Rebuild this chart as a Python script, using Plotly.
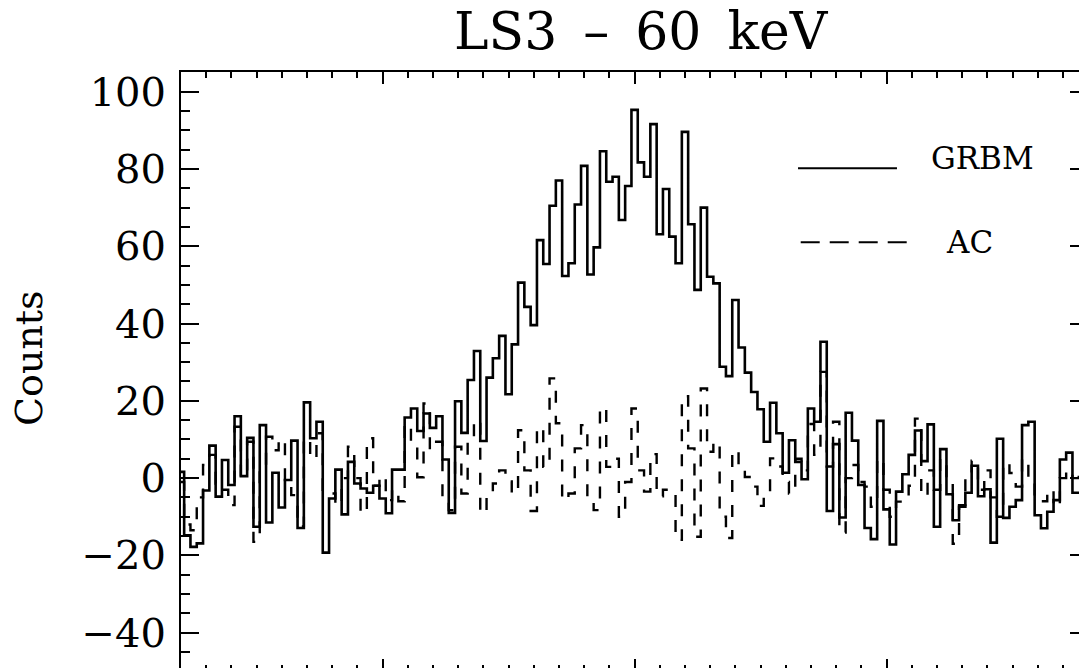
import plotly.graph_objects as go

# ---------------- data ----------------
BIN_WIDTH = 0.25      # bin width in time units
FIRST_BIN = -18.0     # centre of the first bin

grbm_counts = [
    1.6, -14.8, -17.8, -16.9, -3.2, 8.4, -4.8, 4.7, -1.8, 16.0,
    0.5, 10.4, -12.6, 13.7, -11.5, 1.4, -7.6, -0.5, 9.7, -12.9,
    19.6, 10.3, 14.6, -19.3, -5.3, 2.2, -9.4, 4.2, -1.4, -2.7,
    -3.8, -2.0, -5.3, -9.1, 2.2, 2.2, 15.7, 18.0, 12.2, 16.7,
    13.0, 16.0, 4.8, -9.0, 19.9, 11.7, 25.4, 32.9, 9.6, 26.0,
    31.0, 36.8, 21.7, 34.6, 50.6, 44.3, 39.6, 61.6, 55.4, 70.5,
    77.0, 52.3, 55.6, 70.8, 80.8, 52.7, 59.7, 84.6, 76.7, 78.0,
    66.8, 75.6, 95.3, 81.7, 78.0, 91.6, 63.1, 74.8, 62.5, 55.6,
    89.6, 65.7, 48.7, 70.0, 52.1, 50.4, 28.8, 26.4, 46.1, 33.8,
    27.3, 22.3, 17.8, 9.4, 19.5, 11.6, 1.4, 9.8, 4.2, -0.3,
    18.0, 14.6, 35.3, -8.5, 8.8, -10.2, 16.9, 9.7, -1.8, -12.9,
    -15.8, 14.8, -8.1, -17.2, -3.5, 1.0, 6.0, 12.3, 4.4, 13.9,
    -12.6, 7.5, -4.2, -10.9, -7.4, -3.8, 3.2, -4.7, -2.9, -16.7,
    10.2, -10.3, -7.4, -5.7, 13.7, 14.6, -9.6, -13.0, -8.7, -5.7,
    4.8, 6.6, -3.8, -3.8,
]

ac_counts = [
    -1.0, -12.0, -13.5, -5.0, 3.4, 6.0, -1.4, -3.0, -7.0, 13.3,
    0.3, 9.4, -16.5, 2.9, 10.7, 7.2, 10.0, -0.5, -4.4, -12.5,
    10.3, 5.0, 11.6, -3.0, -4.0, -7.0, 0.0, 8.1, 0.0, -9.1,
    10.3, -2.0, 0.5, -5.7, -3.0, -6.0, 14.0, 9.4, 0.2, 19.3,
    7.4, 9.4, -6.1, -8.3, 8.1, -4.0, 10.3, 15.0, -9.1, -3.8,
    -1.4, 2.0, -0.9, -4.0, 12.4, 2.0, -8.5, 13.1, 2.9, 25.8,
    14.2, -5.7, -4.0, 7.7, 13.7, -6.0, -8.3, 18.3, 2.9, 5.0,
    -10.0, -1.0, 18.0, 2.0, -3.5, 6.2, -4.7, -3.0, -3.0, -16.0,
    21.2, 7.7, -15.2, 23.2, 6.8, 9.4, -10.0, -15.5, 7.2, 3.0,
    0.3, -2.2, -7.2, -5.0, 5.1, 3.0, -1.0, -4.0, 5.0, 2.0,
    14.0, 6.0, 27.5, 3.0, 14.6, -14.1, 0.0, 3.4, -1.0, -2.2,
    -7.4, 5.0, -3.0, -10.0, -6.1, -6.0, -2.0, 15.4, -4.7, 2.0,
    -3.0, 5.0, -1.0, -17.0, -7.0, 0.0, 4.5, -3.0, 2.0, -5.0,
    -10.0, 4.0, 1.3, -2.2, 5.0, 0.0, -5.0, -6.0, -3.0, -7.4,
    0.0, 2.0, 0.0, 1.0,
]

time = [FIRST_BIN + BIN_WIDTH * i for i in range(len(grbm_counts))]

series_names = ["GRBM", "AC"]
title_text = "LS3\u2002\u2013\u200260\u2002keV"
y_title = "Counts"

# ---------------- layout constants ----------------
W, H = 1079, 668
ML, MT = 181, 72
X_RANGE = [-18.0, 17.635]
Y_RANGE = [-49.15, 105.1]
SERIF = "DejaVu Serif"

fig = go.Figure()

fig.add_trace(go.Scatter(
    x=time, y=grbm_counts, mode="lines", name=series_names[0],
    line=dict(color="black", width=2.6, shape="hvh"),
    hoverinfo="skip", showlegend=False))

fig.add_trace(go.Scatter(
    x=time, y=ac_counts, mode="lines", name=series_names[1],
    line=dict(color="black", width=2.4, shape="hvh", dash="12px,13px"),
    hoverinfo="skip", showlegend=False))

# helper (invisible) trace so the bottom / right tick axes exist
fig.add_trace(go.Scatter(
    x=time, y=grbm_counts, xaxis="x2", yaxis="y2", mode="lines",
    line=dict(width=0, color="rgba(0,0,0,0)"), hoverinfo="skip",
    showlegend=False))

common = dict(showgrid=False, zeroline=False, fixedrange=True)

fig.update_layout(
    width=W, height=H,
    margin=dict(l=ML, r=0, t=MT, b=0, pad=0),
    paper_bgcolor="white", plot_bgcolor="white",
    showlegend=False,
    xaxis=dict(
        range=X_RANGE, side="top", showline=True, linecolor="black",
        linewidth=2, ticks="inside", ticklen=12, tickwidth=1.5,
        tickcolor="black", tick0=0, dtick=10, showticklabels=False,
        minor=dict(dtick=1, tick0=0, ticks="inside", ticklen=6,
                   tickwidth=1.5, tickcolor="black", showgrid=False),
        **common),
    xaxis2=dict(
        range=X_RANGE, overlaying="x", side="bottom", anchor="y2",
        showline=False, ticks="inside", ticklen=9, tickwidth=1.5,
        tickcolor="black", tick0=0, dtick=10, showticklabels=False,
        minor=dict(dtick=1, tick0=0, ticks="inside", ticklen=3,
                   tickwidth=1.5, tickcolor="black", showgrid=False),
        **common),
    yaxis=dict(
        range=Y_RANGE, showline=True, linecolor="black", linewidth=2,
        ticks="inside", ticklen=18, tickwidth=1.5, tickcolor="black",
        tick0=0, dtick=20, ticklabelstandoff=5,
        tickfont=dict(family=SERIF, size=40, color="black"),
        minor=dict(dtick=5, tick0=0, ticks="inside", ticklen=9,
                   tickwidth=1.5, tickcolor="black", showgrid=False),
        **common),
    yaxis2=dict(
        range=Y_RANGE, overlaying="y", side="right", anchor="x2",
        showline=False, ticks="inside", ticklen=9, tickwidth=1.5,
        tickcolor="black", tick0=0, dtick=20, showticklabels=False,
        **common),
)

# title and y-axis title
fig.add_annotation(
    text=title_text, xref="paper", yref="paper", x=0.5130, y=1.068,
    xanchor="center", yanchor="middle", showarrow=False,
    font=dict(family=SERIF, size=52, color="black"))
fig.add_annotation(
    text=y_title, xref="paper", yref="paper", x=-0.1693, y=0.52,
    xanchor="center", yanchor="middle", textangle=-90, showarrow=False,
    font=dict(family=SERIF, size=38, color="black"))

# hand-drawn legend (as in the original)
legend_items = [
    # name, line x0, x1, line y, text x, text y, dash
    (series_names[0], 0.6871, 0.7973, 0.8384, 0.8330, 0.8565, "solid"),
    (series_names[1], 0.6901, 0.8082, 0.7143, 0.8500, 0.7156, "19px,10px"),
]
for name, x0, x1, ly, tx, ty, dash in legend_items:
    fig.add_shape(type="line", xref="paper", yref="paper",
                  x0=x0, x1=x1, y0=ly, y1=ly,
                  line=dict(color="black", width=2, dash=dash))
    fig.add_annotation(text=name, xref="paper", yref="paper", x=tx, y=ty,
                       xanchor="left", yanchor="middle", showarrow=False,
                       font=dict(family=SERIF, size=31, color="black"))

fig.write_html("out.html")
